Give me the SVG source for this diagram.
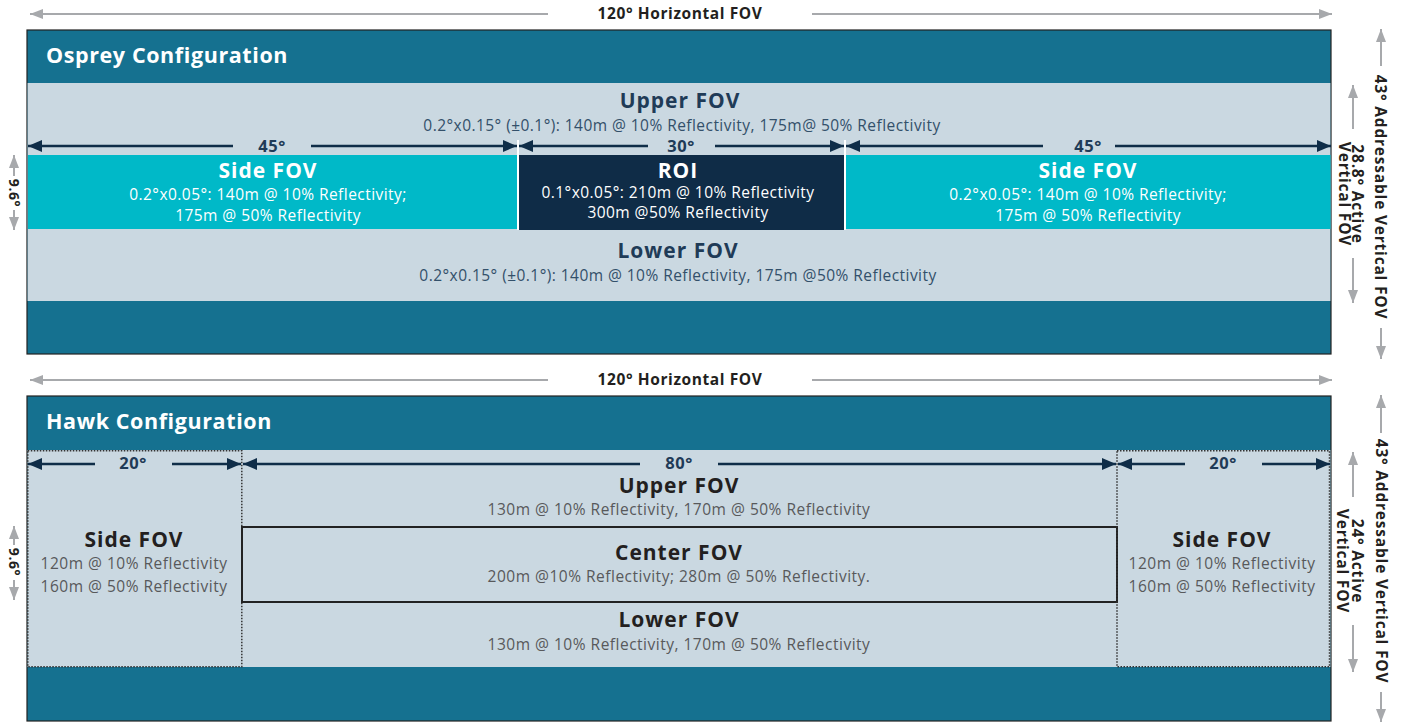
<svg xmlns="http://www.w3.org/2000/svg" width="1402" height="724" viewBox="0 0 1402 724">
<defs>
<marker id="nv" viewBox="0 0 14 12" refX="14" refY="6" markerWidth="14" markerHeight="12" markerUnits="userSpaceOnUse" orient="auto-start-reverse"><path d="M0,0 L14,6 L0,12 z" fill="#0F2D48"/></marker>
<marker id="gy" viewBox="0 0 13 10" refX="13" refY="5" markerWidth="13" markerHeight="10" markerUnits="userSpaceOnUse" orient="auto-start-reverse"><path d="M0,0 L13,5 L0,10 z" fill="#A7A9AC"/></marker>
<style>
text{font-family:"Open Sans","Liberation Sans",sans-serif;text-anchor:middle}
.hdr{font-size:21.5px;font-weight:700;fill:#fff;text-anchor:start;letter-spacing:0.6px}
.ot{font-size:21px;font-weight:700;fill:#1F3B57;letter-spacing:1px}
.os{font-size:15.5px;fill:#33506A;letter-spacing:0.45px}
.wt{font-size:21px;font-weight:700;fill:#fff;letter-spacing:1px}
.ws{font-size:15.5px;fill:#fff;letter-spacing:0.45px}
.ht{font-size:21px;font-weight:700;fill:#231F20;letter-spacing:1px}
.hs{font-size:15.5px;fill:#58595B;letter-spacing:0.5px}
.deg{font-size:16.5px;font-weight:700;fill:#1F3B57;letter-spacing:0.5px}
.dim{font-size:15.5px;font-weight:700;fill:#231F20;letter-spacing:0.6px}
.vd{font-size:15.5px;font-weight:700;fill:#231F20;letter-spacing:0.8px}
.teal{fill:#157190;stroke:#222;stroke-width:1.2}
.light{fill:#CAD8E1}
.nvl{stroke:#0F2D48;stroke-width:2.5;fill:none}
.gyl{stroke:#A7A9AC;stroke-width:2;fill:none}
.dot{fill:none;stroke:#333;stroke-width:1.5;stroke-dasharray:1.5 1.5}
</style>
</defs>

<!-- Osprey -->
<g id="osprey-panel">
<rect class="teal" x="27" y="30" width="1304" height="324"/>
<rect class="light" x="27.6" y="83" width="1302.8" height="218"/>
<text class="hdr" x="46" y="63">Osprey Configuration</text>
</g>
<g id="osprey-upper">
<text class="ot" x="680" y="108">Upper FOV</text>
<text class="os" x="682" y="131">0.2°x0.15° (±0.1°): 140m @ 10% Reflectivity, 175m@ 50% Reflectivity</text>
</g>
<g id="osprey-side-left">
<rect x="28" y="155" width="489" height="74" fill="#00B9C8"/>
<text class="wt" x="268" y="178">Side FOV</text>
<text class="ws" x="268" y="200">0.2°x0.05°: 140m @ 10% Reflectivity;</text>
<text class="ws" x="268" y="221">175m @ 50% Reflectivity</text>
</g>
<g id="osprey-roi">
<rect x="519" y="155" width="325" height="75" fill="#0F2C47"/>
<text class="wt" x="678" y="178">ROI</text>
<text class="ws" x="678" y="198">0.1°x0.05°: 210m @ 10% Reflectivity</text>
<text class="ws" x="678" y="218">300m @50% Reflectivity</text>
</g>
<g id="osprey-side-right">
<rect x="846" y="155" width="484.5" height="74" fill="#00B9C8"/>
<text class="wt" x="1088" y="178">Side FOV</text>
<text class="ws" x="1088" y="200">0.2°x0.05°: 140m @ 10% Reflectivity;</text>
<text class="ws" x="1088" y="221">175m @ 50% Reflectivity</text>
</g>
<g id="osprey-lower">
<text class="ot" x="678" y="258">Lower FOV</text>
<text class="os" x="678" y="281">0.2°x0.15° (±0.1°): 140m @ 10% Reflectivity, 175m @50% Reflectivity</text>
</g>
<g id="osprey-dividers" stroke="#fff" stroke-width="2">
<line x1="518" y1="140" x2="518" y2="230"/>
<line x1="845" y1="140" x2="845" y2="230"/>
</g>

<!-- Hawk -->
<g id="hawk-panel">
<rect class="teal" x="27" y="396" width="1304" height="325"/>
<rect class="light" x="27.6" y="450" width="1302.8" height="217"/>
<text class="hdr" x="46" y="429">Hawk Configuration</text>
</g>
<g id="hawk-side-left">
<rect class="dot" x="27.8" y="450.8" width="214" height="216"/>
<text class="ht" x="134" y="547">Side FOV</text>
<text class="hs" x="134" y="569">120m @ 10% Reflectivity</text>
<text class="hs" x="134" y="592">160m @ 50% Reflectivity</text>
</g>
<g id="hawk-upper">
<text class="ht" x="679" y="493">Upper FOV</text>
<text class="hs" x="679" y="515">130m @ 10% Reflectivity, 170m @ 50% Reflectivity</text>
</g>
<g id="hawk-center">
<rect x="242" y="527" width="875" height="75" fill="none" stroke="#222" stroke-width="2"/>
<text class="ht" x="679" y="560">Center FOV</text>
<text class="hs" x="679" y="582">200m @10% Reflectivity; 280m @ 50% Reflectivity.</text>
</g>
<g id="hawk-lower">
<text class="ht" x="679" y="627">Lower FOV</text>
<text class="hs" x="679" y="650">130m @ 10% Reflectivity, 170m @ 50% Reflectivity</text>
</g>
<g id="hawk-side-right">
<rect class="dot" x="1117" y="450.8" width="212.5" height="216"/>
<text class="ht" x="1222" y="547">Side FOV</text>
<text class="hs" x="1222" y="569">120m @ 10% Reflectivity</text>
<text class="hs" x="1222" y="592">160m @ 50% Reflectivity</text>
</g>

<!-- Dimension connectors -->
<g id="connectors">
<line class="gyl" x1="548" y1="14" x2="30" y2="14" marker-end="url(#gy)"/>
<line class="gyl" x1="812" y1="14" x2="1332" y2="14" marker-end="url(#gy)"/>
<line class="gyl" x1="548" y1="380" x2="30" y2="380" marker-end="url(#gy)"/>
<line class="gyl" x1="812" y1="380" x2="1332" y2="380" marker-end="url(#gy)"/>
<line class="nvl" x1="233" y1="146" x2="28" y2="146" marker-end="url(#nv)"/>
<line class="nvl" x1="311" y1="146" x2="517" y2="146" marker-end="url(#nv)"/>
<line class="nvl" x1="648" y1="146" x2="519" y2="146" marker-end="url(#nv)"/>
<line class="nvl" x1="715" y1="146" x2="844" y2="146" marker-end="url(#nv)"/>
<line class="nvl" x1="1043" y1="146" x2="846" y2="146" marker-end="url(#nv)"/>
<line class="nvl" x1="1115" y1="146" x2="1331" y2="146" marker-end="url(#nv)"/>
<line class="nvl" x1="95" y1="464" x2="28" y2="464" marker-end="url(#nv)"/>
<line class="nvl" x1="172" y1="464" x2="241" y2="464" marker-end="url(#nv)"/>
<line class="nvl" x1="640" y1="464" x2="243" y2="464" marker-end="url(#nv)"/>
<line class="nvl" x1="718" y1="464" x2="1116" y2="464" marker-end="url(#nv)"/>
<line class="nvl" x1="1185" y1="464" x2="1118" y2="464" marker-end="url(#nv)"/>
<line class="nvl" x1="1262" y1="464" x2="1330" y2="464" marker-end="url(#nv)"/>
<line class="gyl" x1="1381" y1="66" x2="1381" y2="29" marker-end="url(#gy)"/>
<line class="gyl" x1="1381" y1="328" x2="1381" y2="359" marker-end="url(#gy)"/>
<line class="gyl" x1="1353" y1="129" x2="1353" y2="85" marker-end="url(#gy)"/>
<line class="gyl" x1="1353" y1="258" x2="1353" y2="303" marker-end="url(#gy)"/>
<line class="gyl" x1="14" y1="176" x2="14" y2="155" marker-end="url(#gy)"/>
<line class="gyl" x1="14" y1="210" x2="14" y2="230" marker-end="url(#gy)"/>
<line class="gyl" x1="1381" y1="433" x2="1381" y2="395" marker-end="url(#gy)"/>
<line class="gyl" x1="1381" y1="692" x2="1381" y2="722" marker-end="url(#gy)"/>
<line class="gyl" x1="1353" y1="497" x2="1353" y2="452" marker-end="url(#gy)"/>
<line class="gyl" x1="1353" y1="625" x2="1353" y2="672" marker-end="url(#gy)"/>
<line class="gyl" x1="14" y1="545" x2="14" y2="526" marker-end="url(#gy)"/>
<line class="gyl" x1="14" y1="580" x2="14" y2="600" marker-end="url(#gy)"/>
</g>

<g id="dimension-labels">
<text class="dim" x="680" y="19">120° Horizontal FOV</text>
<text class="dim" x="680" y="385">120° Horizontal FOV</text>
<text class="deg" x="272" y="152">45°</text>
<text class="deg" x="681" y="152">30°</text>
<text class="deg" x="1088" y="152">45°</text>
<text class="deg" x="133" y="469">20°</text>
<text class="deg" x="679" y="469">80°</text>
<text class="deg" x="1223" y="469">20°</text>
<text class="vd" transform="translate(1375,197) rotate(90)">43° Addressable Vertical FOV</text>
<text class="vd" transform="translate(1351.5,194) rotate(90)">28.8° Active</text>
<text class="vd" transform="translate(1338.5,194) rotate(90)">Vertical FOV</text>
<text class="vd" transform="translate(1376,561) rotate(90)">43° Addressable Vertical FOV</text>
<text class="vd" transform="translate(1351.5,561) rotate(90)">24° Active</text>
<text class="vd" transform="translate(1337,561) rotate(90)">Vertical FOV</text>
<text class="dim" style="font-size:14px" transform="translate(9,193) rotate(90)">9.6°</text>
<text class="dim" style="font-size:14px" transform="translate(9,562) rotate(90)">9.6°</text>
</g>
</svg>
